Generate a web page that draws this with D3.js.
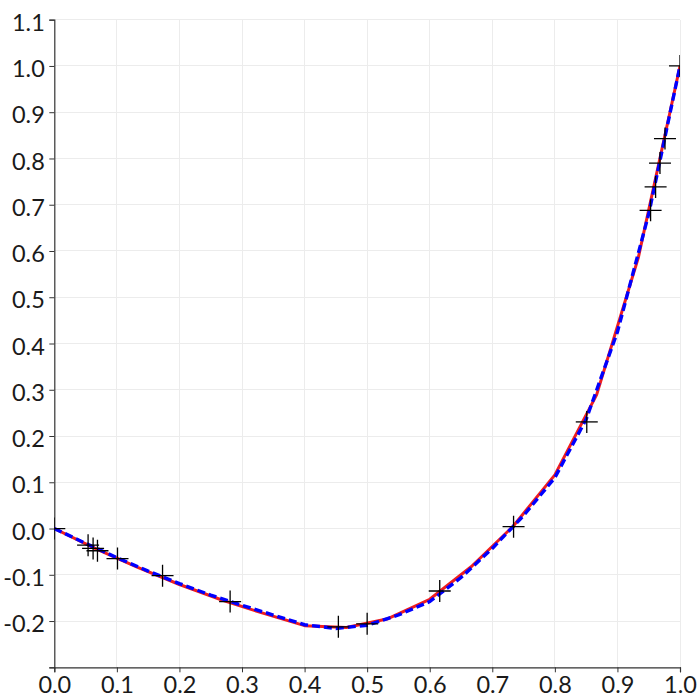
<!DOCTYPE html>
<html>
<head>
<meta charset="utf-8">
<script src="https://cdn.jsdelivr.net/npm/d3@7"></script>
<style>
  html, body { margin: 0; padding: 0; background: #fff; }
  svg { display: block; }
</style>
</head>
<body>
<svg id="chart" width="700" height="700"></svg>
<script>
// ---- data ----
const redX = [0, 0.0667, 0.1333, 0.2, 0.2667, 0.3333, 0.4, 0.4667, 0.5333, 0.6, 0.6667, 0.7333, 0.8, 0.8667, 0.9333, 1.0];
const redY = [0, -0.044, -0.084, -0.121, -0.154, -0.183, -0.210, -0.214, -0.195, -0.153, -0.082, 0.005, 0.116, 0.289, 0.585, 1.0];

const blueX = [0, 0.05, 0.1, 0.15, 0.2, 0.25, 0.3, 0.35, 0.4, 0.45, 0.5, 0.55, 0.6, 0.65, 0.7, 0.75, 0.8, 0.85, 0.9, 0.95, 1.0];
const blueY = [0, -0.032, -0.063, -0.092, -0.119, -0.144, -0.166, -0.187, -0.208, -0.216, -0.209, -0.187, -0.158, -0.106, -0.043, 0.028, 0.110, 0.236, 0.425, 0.680, 1.0];

const ptsX = [0, 0.054, 0.062, 0.069, 0.101, 0.173, 0.281, 0.454, 0.500, 0.616, 0.734, 0.851, 0.953, 0.961, 0.968, 0.976, 1.0];
const ptsY = [0, -0.036, -0.043, -0.048, -0.065, -0.102, -0.158, -0.2125, -0.206, -0.135, 0.004, 0.2305, 0.688, 0.7385, 0.790, 0.843, 1.0];

const xTicks = [0, 0.1, 0.2, 0.3, 0.4, 0.5, 0.6, 0.7, 0.8, 0.9, 1.0];
const yTicks = [-0.3, -0.2, -0.1, 0, 0.1, 0.2, 0.3, 0.4, 0.5, 0.6, 0.7, 0.8, 0.9, 1.0, 1.1];

// ---- layout ----
const svg = d3.select("#chart");
const x = d3.scaleLinear().domain([0, 1]).range([54.3, 680]);
const y = d3.scaleLinear().domain([-0.3, 1.1]).range([667.3, 19.7]);
const font = "Lato, 'Liberation Sans', sans-serif";

svg.append("defs").append("clipPath").attr("id", "clip")
  .append("rect")
  .attr("x", x(0)).attr("y", y(1.1))
  .attr("width", x(1) - x(0)).attr("height", y(-0.3) - y(1.1));

// grid
const grid = svg.append("g").attr("shape-rendering", "crispEdges");
grid.selectAll("line.gx").data(xTicks.filter(d => d > 0)).join("line")
  .attr("x1", d => x(d)).attr("x2", d => x(d))
  .attr("y1", y(-0.3)).attr("y2", y(1.1))
  .attr("stroke", "#ececec").attr("stroke-width", 1);
grid.selectAll("line.gy").data(yTicks.filter(d => d > -0.3)).join("line")
  .attr("y1", d => y(d)).attr("y2", d => y(d))
  .attr("x1", x(0)).attr("x2", x(1))
  .attr("stroke", "#ececec").attr("stroke-width", 1);

// axes
const xAxis = d3.axisBottom(x).tickValues(xTicks).tickSize(5).tickPadding(4)
  .tickFormat(d3.format(".1f"));
const yAxis = d3.axisLeft(y).tickValues(yTicks).tickSize(5).tickPadding(4)
  .tickFormat(d => d === -0.3 ? "" : d3.format(".1f")(d).replace("−", "-"));

const gx = svg.append("g").attr("transform", `translate(0,${y(-0.3)})`).call(xAxis);
const gy = svg.append("g").attr("transform", `translate(${x(0)},0)`).call(yAxis);
[gx, gy].forEach(g => {
  g.select(".domain").attr("stroke", "#333").attr("stroke-width", 1.2);
  g.selectAll(".tick line").attr("stroke", "#333");
  g.selectAll("text").attr("fill", "#1a1a1a").style("font-family", font)
    .style("font-size", "23.5px").style("font-weight", 400);
});
gx.selectAll("text").attr("y", 25.8).attr("dy", 0);
gy.selectAll("text").attr("x", -9.5).attr("dy", "0.45em");

// lines
const plot = svg.append("g").attr("clip-path", "url(#clip)");
const line = d3.line().x(d => x(d[0])).y(d => y(d[1]));

const redData = redX.map((v, i) => [v, redY[i]]);
const blueData = blueX.map((v, i) => [v, blueY[i]]);

plot.append("path").datum(redData).attr("d", line)
  .attr("fill", "none").attr("stroke", "#f01e1e").attr("stroke-width", 3)
  .attr("stroke-linejoin", "round");
plot.append("path").datum(blueData).attr("d", line)
  .attr("fill", "none").attr("stroke", "#0000ff").attr("stroke-width", 3.4)
  .attr("stroke-dasharray", "8,4");

// cross markers
const pts = ptsX.map((v, i) => [v, ptsY[i]]);
const arm = 11;
const cross = plot.selectAll("g.pt").data(pts).join("g")
  .attr("transform", d => `translate(${x(d[0])},${y(d[1])})`);
cross.append("line").attr("x1", -arm).attr("x2", arm).attr("y1", 0).attr("y2", 0)
  .attr("stroke", "#000").attr("stroke-width", 1.3);
cross.append("line").attr("y1", -arm).attr("y2", arm).attr("x1", 0).attr("x2", 0)
  .attr("stroke", "#000").attr("stroke-width", 1.3);
</script>
</body>
</html>
